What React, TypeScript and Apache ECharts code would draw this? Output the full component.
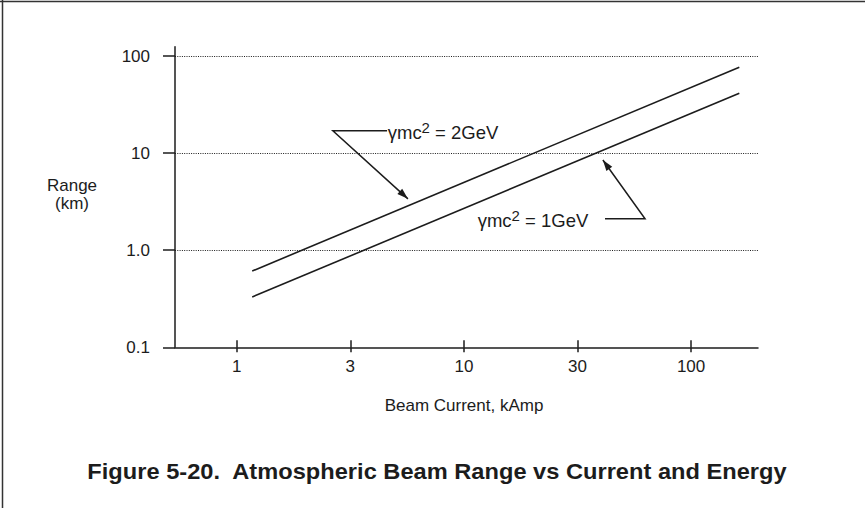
import React, { useEffect, useRef } from 'react';
import * as echarts from 'echarts';

// Beam current (kAmp) at the two ends of each line
const currentKA = [1.17, 163];
// Range (km) for gamma*m*c^2 = 2 GeV
const range2GeV = [0.61, 76.7];
// Range (km) for gamma*m*c^2 = 1 GeV
const range1GeV = [0.33, 41.4];

// x axis: ticks at half decades, labelled 1, 3, 10, 30, 100
const xTickValues = [1, 3.162, 10, 31.62, 100];
const xTickLabels = ['1', '3', '10', '30', '100'];
const xAxisEnds = [0.535, 197];
// y axis
const yTickValues = [0.1, 1, 10, 100];
const yTickLabels = ['0.1', '1.0', '10', '100'];
const yAxisEnds = [0.1, 124.7];
const gridValues = [1, 10, 100];

// annotations in data units (current kA, range km)
const label2Anchor = [4.62, 17.0];
const leader2 = [[4.59, 17.0], [2.65, 17.0], [5.67, 3.38]];
const label1Anchor = [11.5, 2.11];
const leader1 = [[41.8, 2.11], [62.7, 2.11], [40.9, 8.5]];

const FONT = '"Liberation Sans", Arial, Helvetica, sans-serif';
const INK = '#1c1c1c';

export default function App() {
  const ref = useRef<HTMLDivElement>(null);
  useEffect(() => {
    const el = ref.current!;
    const chart = echarts.init(el, null, { renderer: 'svg' });
    const L = Math.log10;
    const xMin = L(xAxisEnds[0]);
    const xMax = L(xAxisEnds[1]);
    const xTicks = xTickValues.map(L);
    const yTicks = yTickValues.map(L);
    const xLabelOf = (v: number) => {
      const i = xTicks.findIndex((t) => Math.abs(t - v) < 1e-3);
      return i >= 0 ? xTickLabels[i] : '';
    };
    const yLabelOf = (v: number) => {
      const i = yTicks.findIndex((t) => Math.abs(t - v) < 1e-3);
      return i >= 0 ? yTickLabels[i] : '';
    };
    const lineStyle = { color: INK, width: 1.5 };
    const option: any = {
      animation: false,
      grid: { left: 175, right: 107, top: 46.7, bottom: 160.7 },
      xAxis: [
        {
          type: 'value',
          min: xMin,
          max: xMax,
          position: 'bottom',
          axisLine: { show: true, onZero: false, lineStyle },
          axisTick: { show: true, inside: false, length: 5, lineStyle, customValues: xTicks },
          axisLabel: {
            show: true,
            customValues: xTicks,
            formatter: (v: number) => xLabelOf(v),
            margin: 11,
            color: INK,
            fontFamily: FONT,
            fontSize: 17,
          },
          splitLine: { show: false },
        },
        {
          type: 'value',
          min: xMin,
          max: xMax,
          position: 'bottom',
          gridIndex: 0,
          axisLine: { show: false, onZero: false },
          axisTick: { show: true, inside: true, length: 7, lineStyle, customValues: xTicks },
          axisLabel: { show: false },
          splitLine: { show: false },
        },
      ],
      yAxis: {
        type: 'value',
        min: L(yAxisEnds[0]),
        max: L(yAxisEnds[1]),
        axisLine: { show: true, onZero: false, lineStyle },
        axisTick: { show: true, inside: false, length: 12, lineStyle, customValues: yTicks },
        axisLabel: {
          show: true,
          customValues: yTicks,
          formatter: (v: number) => yLabelOf(v),
          margin: 25,
          color: INK,
          fontFamily: FONT,
          fontSize: 17,
        },
        splitLine: { show: false },
      },
      series: [
        {
          name: '2 GeV',
          type: 'line',
          data: currentKA.map((c, i) => [L(c), L(range2GeV[i])]),
          showSymbol: false,
          lineStyle: { color: INK, width: 1.6 },
          silent: true,
          markLine: {
            silent: true,
            symbol: 'none',
            label: { show: false },
            lineStyle: { color: INK, width: 1, type: [1, 1.3] },
            data: gridValues.map((g) => ({ yAxis: L(g) })),
          },
        },
        {
          name: '1 GeV',
          type: 'line',
          data: currentKA.map((c, i) => [L(c), L(range1GeV[i])]),
          showSymbol: false,
          lineStyle: { color: INK, width: 1.6 },
          silent: true,
        },
      ],
    };
    chart.setOption(option);

    const toPx = (p: number[]) => chart.convertToPixel({ seriesIndex: 0 }, [L(p[0]), L(p[1])]) as number[];
    const arrowHead = (from: number[], tip: number[]) => {
      const dx = tip[0] - from[0];
      const dy = tip[1] - from[1];
      const len = Math.hypot(dx, dy);
      const ux = dx / len;
      const uy = dy / len;
      const hl = 11;
      const hw = 3.6;
      const bx = tip[0] - ux * hl;
      const by = tip[1] - uy * hl;
      return {
        type: 'polygon',
        shape: { points: [tip, [bx - uy * hw, by + ux * hw], [bx + uy * hw, by - ux * hw]] },
        style: { fill: INK },
        silent: true,
      };
    };
    const leaderGraphics = (pts: number[][]) => {
      const px = pts.map(toPx);
      return [
        {
          type: 'polyline',
          shape: { points: px },
          style: { stroke: INK, lineWidth: 1.5, fill: null },
          silent: true,
        },
        arrowHead(px[px.length - 2], px[px.length - 1]),
      ];
    };
    const richLabel = (anchor: number[], energy: string) => {
      const p = toPx(anchor);
      return {
        type: 'text',
        x: p[0],
        y: p[1],
        silent: true,
        style: {
          text: `{b|γmc}{s|2}{b| = ${energy}}`,
          align: 'left',
          verticalAlign: 'middle',
          fill: INK,
          rich: {
            b: { fontFamily: FONT, fontSize: 18.5, fill: INK, lineHeight: 22, verticalAlign: 'bottom' },
            s: { fontFamily: FONT, fontSize: 15, fill: INK, lineHeight: 22, verticalAlign: 'top' },
          },
        },
      };
    };

    chart.setOption({
      graphic: [
        { type: 'line', shape: { x1: 0, y1: 1.5, x2: 865, y2: 1.5 }, style: { stroke: '#333', lineWidth: 1.5 }, silent: true },
        { type: 'line', shape: { x1: 2.5, y1: 0, x2: 2.5, y2: 508 }, style: { stroke: '#333', lineWidth: 1.5 }, silent: true },
        ...leaderGraphics(leader2),
        ...leaderGraphics(leader1),
        richLabel(label2Anchor, '2GeV'),
        richLabel(label1Anchor, '1GeV'),
        {
          type: 'text',
          x: 72,
          y: 194,
          silent: true,
          style: {
            text: 'Range\n(km)',
            align: 'center',
            verticalAlign: 'middle',
            fontFamily: FONT,
            fontSize: 17,
            lineHeight: 18,
            fill: INK,
          },
        },
        {
          type: 'text',
          x: 464,
          y: 405,
          silent: true,
          style: {
            text: 'Beam Current, kAmp',
            align: 'center',
            verticalAlign: 'middle',
            fontFamily: FONT,
            fontSize: 17,
            fill: INK,
          },
        },
        {
          type: 'text',
          x: 437,
          y: 471,
          scaleX: 1.075,
          originX: 0,
          originY: 0,
          silent: true,
          style: {
            text: 'Figure 5-20.  Atmospheric Beam Range vs Current and Energy',
            align: 'center',
            verticalAlign: 'middle',
            fontFamily: FONT,
            fontSize: 22,
            fontWeight: 'bold',
            fill: INK,
          },
        },
      ],
    });
    return () => chart.dispose();
  }, []);
  return (
    <div
      ref={ref}
      style={{ position: 'fixed', left: 0, top: 0, width: 865, height: 508, background: '#fff' }}
    />
  );
}
